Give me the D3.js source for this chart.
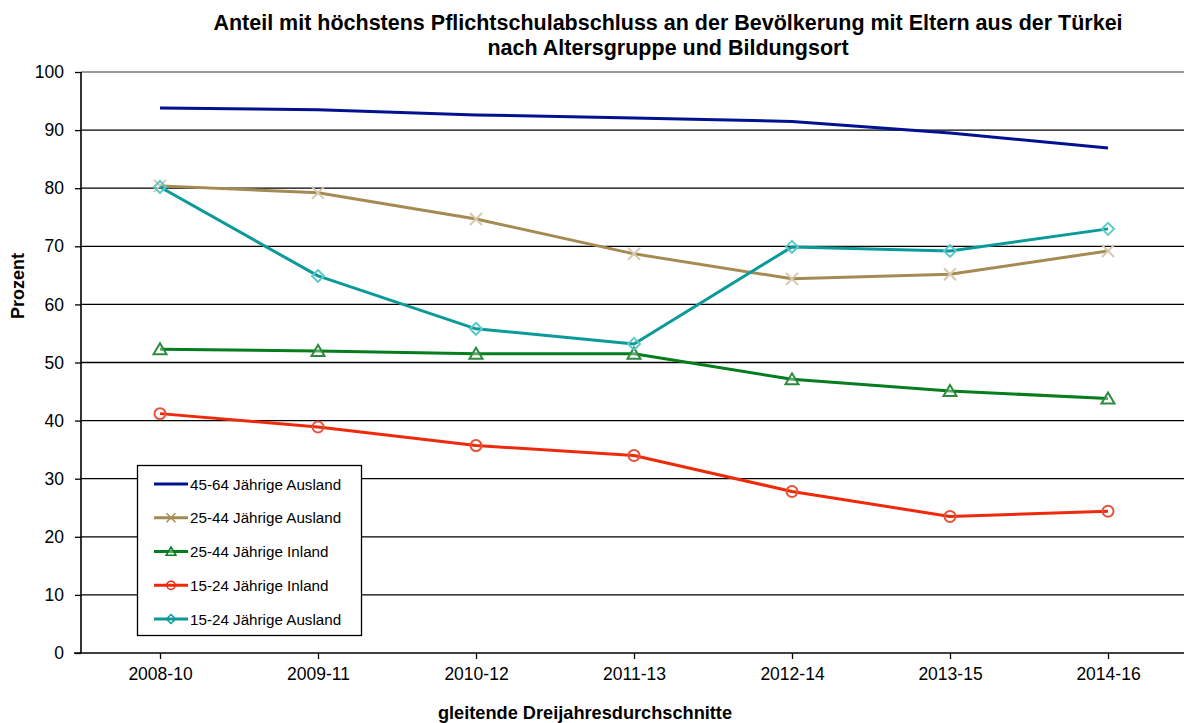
<!DOCTYPE html>
<html>
<head>
<meta charset="utf-8">
<script src="https://cdn.jsdelivr.net/npm/d3@7"></script>
<style>
  html, body { margin: 0; padding: 0; background: #fff; }
  svg { display: block; font-family: "Liberation Sans", Arial, sans-serif; }
</style>
</head>
<body>
<svg id="chart" width="1184" height="723"></svg>
<script>
// Three-year moving averages (periods)
const periods = ["2008-10", "2009-11", "2010-12", "2011-13", "2012-14", "2013-15", "2014-16"];

// Share (%) with at most compulsory schooling, by age group and place of education
const s4564Ausland = [93.8, 93.5, 92.6, 92.1, 91.5, 89.5, 86.9];
const s2544Ausland = [80.4, 79.2, 74.7, 68.7, 64.4, 65.2, 69.2];
const s2544Inland  = [52.3, 52.0, 51.5, 51.5, 47.1, 45.1, 43.8];
const s1524Inland  = [41.2, 38.9, 35.7, 34.0, 27.8, 23.5, 24.4];
const s1524Ausland = [80.2, 64.9, 55.8, 53.2, 69.9, 69.2, 73.0];

const yTicks = [0, 10, 20, 30, 40, 50, 60, 70, 80, 90, 100];

const seriesNames = [
  "45-64 Jährige Ausland",
  "25-44 Jährige Ausland",
  "25-44 Jährige Inland",
  "15-24 Jährige Inland",
  "15-24 Jährige Ausland"
];

const series = [
  { name: seriesNames[0], values: s4564Ausland, color: "#00128F", marker: "none" },
  { name: seriesNames[1], values: s2544Ausland, color: "#A58A53", markColor: "#D8C9AE", marker: "cross" },
  { name: seriesNames[2], values: s2544Inland,  color: "#047D1E", markColor: "#2E8B3E", marker: "triangle" },
  { name: seriesNames[3], values: s1524Inland,  color: "#EE2A0B", markColor: "#E4533A", marker: "circle" },
  { name: seriesNames[4], values: s1524Ausland, color: "#0A9A9A", markColor: "#5FC9C9", marker: "diamond" }
];

const svg = d3.select("#chart");
const W = 1184;
const plotLeft = 81;

const x = d3.scalePoint().domain(periods).range([160, 1108]);
const y = d3.scaleLinear().domain([0, 100]).range([653, 72]);

// Title
const title = svg.append("g").attr("font-weight", "bold").attr("font-size", 21.5)
  .attr("text-anchor", "middle").attr("fill", "#000");
title.append("text").attr("x", 668).attr("y", 30)
  .text("Anteil mit höchstens Pflichtschulabschluss an der Bevölkerung mit Eltern aus der Türkei");
title.append("text").attr("x", 668).attr("y", 55)
  .text("nach Altersgruppe und Bildungsort");

// Horizontal gridlines
svg.append("g").selectAll("line").data(yTicks.filter(d => d > 0)).join("line")
  .attr("x1", plotLeft).attr("x2", W)
  .attr("y1", d => y(d)).attr("y2", d => y(d))
  .attr("stroke", d => d === 100 ? "#999" : "#000")
  .attr("stroke-width", d => d === 100 ? 2 : 1.3);

// Y axis
const yAxis = svg.append("g").attr("transform", `translate(${plotLeft},0)`)
  .call(d3.axisLeft(y).tickValues(yTicks).tickSize(6).tickPadding(11).tickFormat(d3.format("d")));
yAxis.select(".domain").attr("stroke", "#000").attr("stroke-width", 1.6).attr("d", `M0,${y(100)}V${y(0)}`);
yAxis.selectAll(".tick line").attr("stroke", "#000").attr("stroke-width", 1.3);
yAxis.selectAll("text").attr("font-size", 17.5).attr("font-family", "Liberation Sans, Arial, sans-serif").attr("fill", "#000");

// X axis
const xAxis = svg.append("g").attr("transform", `translate(0,${y(0)})`)
  .call(d3.axisBottom(x).tickSize(6).tickPadding(9));
xAxis.select(".domain").attr("stroke", "#000").attr("stroke-width", 1.6).attr("d", `M${plotLeft - 7},0H${W}`);
xAxis.selectAll(".tick line").attr("stroke", "#000").attr("stroke-width", 1.3);
xAxis.selectAll("text").attr("font-size", 17.5).attr("font-family", "Liberation Sans, Arial, sans-serif").attr("fill", "#000");

// Axis titles
svg.append("text").attr("x", 585).attr("y", 719).attr("text-anchor", "middle")
  .attr("font-weight", "bold").attr("font-size", 18.2).text("gleitende Dreijahresdurchschnitte");
svg.append("text").attr("transform", "translate(24,286) rotate(-90)").attr("text-anchor", "middle")
  .attr("font-weight", "bold").attr("font-size", 18).text("Prozent");

// Marker drawing
function drawMarker(g, type, color) {
  if (type === "cross") {
    g.append("path").attr("d", "M-6,-6L6,6M-6,6L6,-6").attr("stroke", color).attr("stroke-width", 2).attr("fill", "none");
  } else if (type === "triangle") {
    g.append("path").attr("d", "M0,-6L6.5,5L-6.5,5Z").attr("stroke", color).attr("stroke-width", 2).attr("fill", "#fff").attr("fill-opacity", 0.35);
  } else if (type === "circle") {
    g.append("circle").attr("r", 5.5).attr("stroke", color).attr("stroke-width", 2).attr("fill", "none");
  } else if (type === "diamond") {
    g.append("path").attr("d", "M0,-6L6,0L0,6L-6,0Z").attr("stroke", color).attr("stroke-width", 2).attr("fill", "none");
  }
}

const line = d3.line().x((d, i) => x(periods[i])).y(d => y(d));

series.forEach(s => {
  svg.append("path").datum(s.values)
    .attr("d", line).attr("fill", "none")
    .attr("stroke", s.color).attr("stroke-width", 3).attr("stroke-linejoin", "round");
  if (s.marker !== "none") {
    svg.append("g").selectAll("g").data(s.values).join("g")
      .attr("transform", (d, i) => `translate(${x(periods[i])},${y(d)})`)
      .each(function () { drawMarker(d3.select(this), s.marker, s.markColor); });
  }
});

// Legend
const legend = svg.append("g");
legend.append("rect").attr("x", 137.5).attr("y", 465.5).attr("width", 224).attr("height", 170)
  .attr("fill", "#fff").attr("stroke", "#000").attr("stroke-width", 1.3);
const legendRow = d3.scalePoint().domain(seriesNames).range([484, 619]);
series.forEach(s => {
  const ly = legendRow(s.name);
  const g = legend.append("g");
  g.append("line").attr("x1", 154).attr("x2", 188).attr("y1", ly).attr("y2", ly)
    .attr("stroke", s.color).attr("stroke-width", 3);
  if (s.marker !== "none") {
    const m = g.append("g").attr("transform", `translate(171,${ly})`);
    const mk = m.append("g").attr("transform", "scale(0.75)");
    drawMarker(mk, s.marker, s.color);
  }
  g.append("text").attr("x", 190).attr("y", ly + 5.5).attr("font-size", 15.2).attr("fill", "#000").text(s.name);
});
</script>
</body>
</html>
